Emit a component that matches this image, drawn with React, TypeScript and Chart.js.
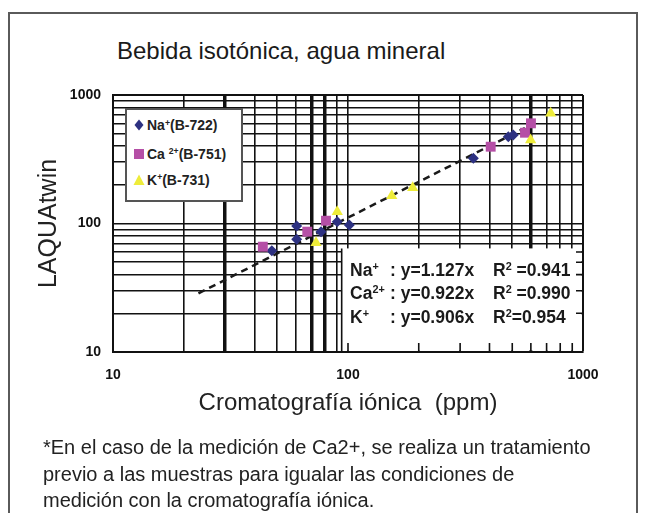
import React, { useEffect, useRef } from 'react';
import { Chart, registerables } from 'chart.js';

Chart.register(...registerables);

// ---- data ----
const NA_X = [47.4, 60.5, 60.5, 76.8, 90.0, 101.3, 341.5, 481, 505];
const NA_Y = [61.4, 95.6, 75.4, 86.4, 103.3, 97.3, 321.7, 473.7, 488.3];
const CA_X = [43.4, 67.1, 80.6, 404.8, 566.5, 600.5];
const CA_Y = [66.0, 86.4, 105.1, 396, 508.8, 602];
const K_X = [73.1, 90.0, 153.5, 188.5, 598.7, 729];
const K_Y = [70.9, 123.5, 164.6, 189.9, 446.4, 720.6];
const FIT_X = [23.1, 566];
const FIT_Y = [28.6, 553];

const GRID_VALUES = [10, 20, 30, 40, 50, 60, 70, 80, 90, 100, 200, 300, 400, 500, 600, 700, 800, 900, 1000];
const TICK_LABELS = [10, 100, 1000];
const X_THICK = [30, 70, 80, 600];

const LEGEND_ITEMS = [
  { ion: 'Na', charge: '+', code: '(B-722)', color: '#2d3181', shape: 'diamond' },
  { ion: 'Ca', charge: '2+', code: '(B-751)', color: '#b54fa6', shape: 'square' },
  { ion: 'K', charge: '+', code: '(B-731)', color: '#eeec3a', shape: 'triangle' },
];
const EQ_ROWS = [
  { ion: 'Na', charge: '+', eq: ': y=1.127x', r2: '=0.941', sp: ' ' },
  { ion: 'Ca', charge: '2+', eq: ': y=0.922x', r2: '=0.990', sp: ' ' },
  { ion: 'K', charge: '+', eq: ': y=0.906x', r2: '=0.954', sp: '' },
];
// box anchor in data units (lower-right inset holding the equations)
const EQ_BOX_X = 94;
const EQ_BOX_Y = 64;

const FONT = '"Liberation Sans", Arial, Helvetica, sans-serif';

const pts = (xs: number[], ys: number[]) => xs.map((x, i) => ({ x, y: ys[i] }));

const eqBoxPlugin = {
  id: 'eqBox',
  beforeDatasetsDraw(chart: any) {
    const { ctx, chartArea: a, scales } = chart;
    const xs = scales.x;
    const ys = scales.y;
    const left = xs.getPixelForValue(EQ_BOX_X);
    const top = ys.getPixelForValue(EQ_BOX_Y);
    ctx.save();
    ctx.fillStyle = '#ffffff';
    ctx.fillRect(left, top, a.right - 1.5 - left, a.bottom - 1.5 - top);
    ctx.strokeStyle = '#111';
    ctx.lineWidth = 1.6;
    ctx.beginPath();
    ctx.moveTo(left, top);
    ctx.lineTo(left, a.bottom);
    for (const v of GRID_VALUES) {
      const px = xs.getPixelForValue(v);
      if (px > left + 3 && px < a.right - 3) {
        ctx.moveTo(px, a.bottom);
        ctx.lineTo(px, a.bottom - 9);
      }
      const py = ys.getPixelForValue(v);
      if (py > top + 3 && py < a.bottom - 3) {
        ctx.moveTo(a.right, py);
        ctx.lineTo(a.right - 7, py);
      }
    }
    ctx.stroke();
    ctx.restore();
  },
};

const Sup = ({ t }: { t: string }) => (
  <span style={{ fontSize: '0.62em', position: 'relative', top: '-0.55em' }}>{t}</span>
);

const Marker = ({ shape, color }: { shape: string; color: string }) => (
  <svg width={12} height={12} style={{ position: 'absolute', left: 6, top: 4 }}>
    {shape === 'diamond' && <polygon points="6,0.5 10.5,6 6,11.5 1.5,6" fill={color} />}
    {shape === 'square' && <rect x={1} y={1} width={10} height={10} fill={color} />}
    {shape === 'triangle' && <polygon points="6,0.5 11.5,11 0.5,11" fill={color} />}
  </svg>
);

export default function App() {
  const canvasRef = useRef<HTMLCanvasElement | null>(null);

  useEffect(() => {
    if (!canvasRef.current) return;
    const tickFont = { family: FONT, size: 14, weight: 'bold' as const };
    const labelCb = (v: any) => (TICK_LABELS.includes(Number(v)) ? String(v) : '');
    const setTicks = (s: any) => {
      s.ticks = GRID_VALUES.map((v) => ({ value: v }));
    };
    const chart = new Chart(canvasRef.current, {
      type: 'scatter',
      data: {
        datasets: [
          {
            label: 'Na+(B-722)',
            data: pts(NA_X, NA_Y),
            pointStyle: 'rectRot',
            pointRadius: 5.5,
            backgroundColor: '#2d3181',
            borderColor: '#2d3181',
            borderWidth: 0,
            order: 3,
          },
          {
            label: 'Ca2+(B-751)',
            data: pts(CA_X, CA_Y),
            pointStyle: 'rect',
            pointRadius: 7,
            backgroundColor: '#b54fa6',
            borderColor: '#b54fa6',
            borderWidth: 0,
            order: 2,
          },
          {
            label: 'K+(B-731)',
            data: pts(K_X, K_Y),
            pointStyle: 'triangle',
            pointRadius: 6.5,
            backgroundColor: '#eeec3a',
            borderColor: '#eeec3a',
            borderWidth: 0,
            order: 1,
          },
          {
            label: 'fit',
            data: pts(FIT_X, FIT_Y),
            showLine: true,
            borderColor: '#1a1a1a',
            borderWidth: 2.5,
            borderDash: [7, 5],
            pointRadius: 0,
            order: 4,
          } as any,
        ],
      },
      options: {
        animation: false,
        responsive: false,
        layout: { padding: { left: 0, top: 87, right: 57, bottom: 0 } },
        plugins: { legend: { display: false }, tooltip: { enabled: false } },
        scales: {
          x: {
            type: 'logarithmic',
            min: 10,
            max: 1000,
            afterBuildTicks: setTicks,
            afterFit: (s: any) => {
              s.height = 86;
            },
            ticks: { autoSkip: false, maxRotation: 0, padding: 15, font: tickFont, color: '#111', callback: labelCb },
            grid: {
              color: '#111',
              drawTicks: false,
              lineWidth: (c: any) => {
                const v = c.tick && c.tick.value;
                if (X_THICK.includes(v)) return 3.5;
                if (v === 1000) return 2;
                return 1.6;
              },
            },
            border: { display: true, color: '#111', width: 2 },
            title: {
              display: true,
              text: 'Cromatografía iónica  (ppm)',
              font: { family: FONT, size: 24 },
              color: '#222',
              padding: { top: 0, bottom: 20 },
            },
          },
          y: {
            type: 'logarithmic',
            min: 10,
            max: 1000,
            afterBuildTicks: setTicks,
            afterFit: (s: any) => {
              s.width = 105;
            },
            ticks: { autoSkip: false, padding: 12, font: tickFont, color: '#111', callback: labelCb },
            grid: {
              color: '#111',
              drawTicks: false,
              lineWidth: (c: any) => (c.tick && c.tick.value === 1000 ? 2 : 1.6),
            },
            border: { display: true, color: '#111', width: 2 },
            title: {
              display: true,
              text: 'LAQUAtwin',
              font: { family: FONT, size: 25 },
              color: '#222',
              padding: { top: 26, bottom: 0 },
            },
          },
        },
      } as any,
      plugins: [eqBoxPlugin],
    });
    return () => chart.destroy();
  }, []);

  return (
    <div style={{ position: 'relative', width: 632, height: 505, overflow: 'hidden', fontFamily: FONT }}>
      <div
        style={{
          position: 'absolute',
          left: 0,
          top: 4,
          width: 630,
          height: 560,
          border: '2px solid #5a5a5a',
          boxSizing: 'border-box',
        }}
      />
      <div
        style={{
          position: 'absolute',
          left: 109,
          top: 31,
          fontSize: 24,
          lineHeight: '24px',
          color: '#1a1a1a',
          whiteSpace: 'nowrap',
        }}
      >
        Bebida isotónica, agua mineral
      </div>
      <canvas ref={canvasRef} width={632} height={430} style={{ position: 'absolute', left: 0, top: 0 }} />

      {/* legend */}
      <div
        style={{
          position: 'absolute',
          left: 117,
          top: 100,
          width: 118,
          height: 94,
          border: '2px solid #555',
          background: '#fff',
          boxSizing: 'border-box',
        }}
      >
        {LEGEND_ITEMS.map((it, i) => (
          <div
            key={it.ion}
            style={{
              position: 'absolute',
              left: 0,
              top: [15.4, 43.7, 69.7][i] - 10,
              height: 20,
              width: 114,
            }}
          >
            <Marker shape={it.shape} color={it.color} />
            <span
              style={{
                position: 'absolute',
                left: 20,
                top: 0,
                lineHeight: '20px',
                fontSize: 14,
                fontWeight: 'bold',
                color: '#222',
                whiteSpace: 'nowrap',
              }}
            >
              {it.ion}
              {it.charge === '2+' ? ' ' : ''}
              <Sup t={it.charge} />
              {it.code}
            </span>
          </div>
        ))}
      </div>

      {/* equations */}
      {EQ_ROWS.map((r, i) => {
        const top = [262, 285.3, 309.3][i] - 12;
        const common: React.CSSProperties = {
          position: 'absolute',
          top,
          lineHeight: '24px',
          fontSize: 17.5,
          fontWeight: 'bold',
          color: '#1a1a1a',
          whiteSpace: 'nowrap',
        };
        return (
          <React.Fragment key={r.ion}>
            <span style={{ ...common, left: 342 }}>
              {r.ion}
              <Sup t={r.charge} />
            </span>
            <span style={{ ...common, left: 382 }}>{r.eq}</span>
            <span style={{ ...common, left: 485 }}>
              R<Sup t="2" />
              {r.sp}
              {r.r2}
            </span>
          </React.Fragment>
        );
      })}

      {/* footnote */}
      <div
        style={{
          position: 'absolute',
          left: 35,
          top: 426,
          fontSize: 20,
          lineHeight: '26.5px',
          color: '#222',
          whiteSpace: 'nowrap',
        }}
      >
        <div>*En el caso de la medición de Ca2+, se realiza un tratamiento</div>
        <div>previo a las muestras para igualar las condiciones de</div>
        <div>medición con la cromatografía iónica.</div>
      </div>
    </div>
  );
}
